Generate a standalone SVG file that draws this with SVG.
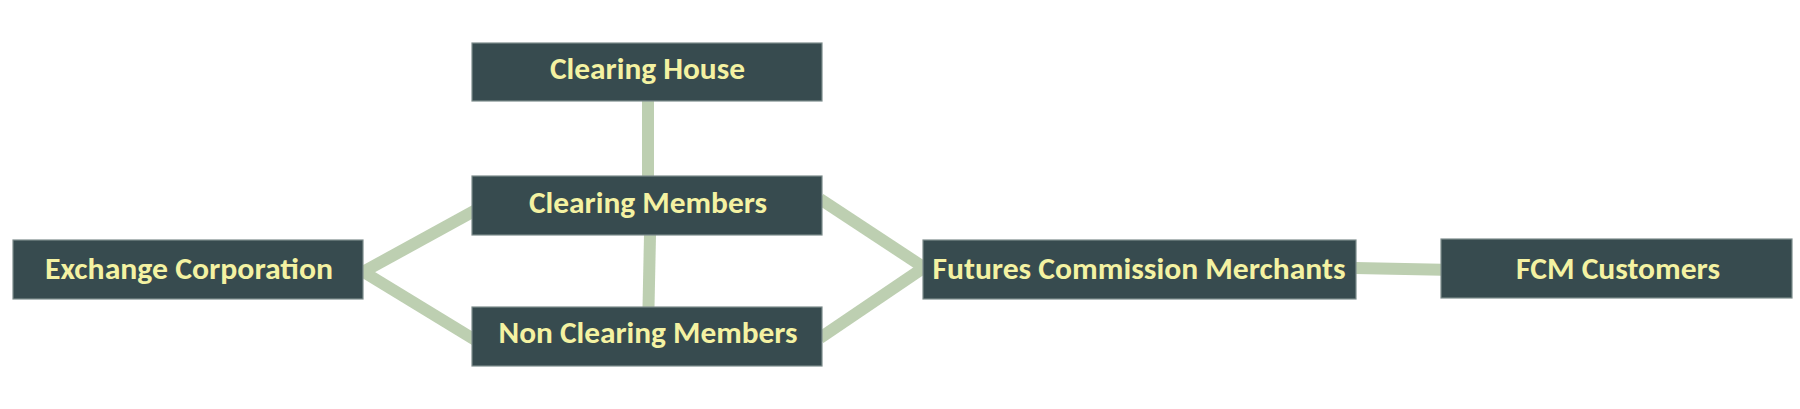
<svg xmlns="http://www.w3.org/2000/svg" width="1800" height="409" viewBox="0 0 1800 409">
<style>
.box{fill:#374B4F;stroke:#7C8C8C;stroke-width:1.2}
.lbl{fill:#F4F2A2;font-family:"Carlito","Lato","Open Sans","Liberation Sans",sans-serif;font-weight:bold;font-size:31px;text-anchor:middle}
.edge{stroke:#BDCFB1;stroke-width:12;fill:none}
</style>
<rect width="1800" height="409" fill="#FFFFFF"/>
<g id="connectors">
<line class="edge" x1="648" y1="101" x2="648" y2="176"/>
<line class="edge" x1="650" y1="235" x2="648.5" y2="307"/>
<line class="edge" x1="362" y1="272.5" x2="475" y2="210.5"/>
<line class="edge" x1="362" y1="271" x2="476" y2="340.5"/>
<line class="edge" x1="820" y1="199" x2="924" y2="267.5"/>
<line class="edge" x1="820" y1="338" x2="924" y2="267.5"/>
<line class="edge" x1="1355" y1="268" x2="1442" y2="269.7"/>
</g>
<g id="clearing-house">
<rect class="box" x="472" y="43" width="350" height="58"/>
<text class="lbl" x="647.5" y="79.3" textLength="195" lengthAdjust="spacingAndGlyphs">Clearing House</text>
</g>
<g id="clearing-members">
<rect class="box" x="472" y="176" width="350" height="59"/>
<text class="lbl" x="648" y="212.7" textLength="238" lengthAdjust="spacingAndGlyphs">Clearing Members</text>
</g>
<g id="non-clearing-members">
<rect class="box" x="472" y="307" width="350" height="59"/>
<text class="lbl" x="648" y="342.7" textLength="299" lengthAdjust="spacingAndGlyphs">Non Clearing Members</text>
</g>
<g id="exchange-corporation">
<rect class="box" x="13" y="240" width="350" height="59"/>
<text class="lbl" x="189" y="279.3" textLength="288" lengthAdjust="spacingAndGlyphs">Exchange Corporation</text>
</g>
<g id="futures-commission-merchants">
<rect class="box" x="923" y="240" width="433" height="59"/>
<text class="lbl" x="1139" y="278.7" textLength="413" lengthAdjust="spacingAndGlyphs">Futures Commission Merchants</text>
</g>
<g id="fcm-customers">
<rect class="box" x="1441" y="239" width="351" height="59"/>
<text class="lbl" x="1618" y="279" textLength="204" lengthAdjust="spacingAndGlyphs">FCM Customers</text>
</g>
</svg>
